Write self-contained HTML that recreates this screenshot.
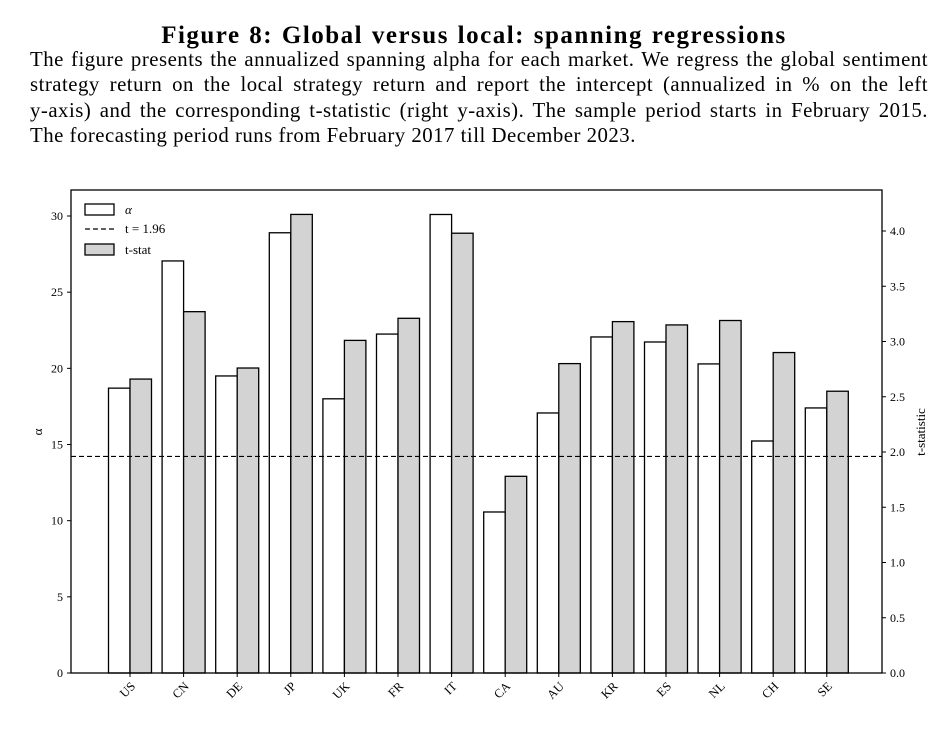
<!DOCTYPE html>
<html><head><meta charset="utf-8"><style>
body{margin:0;background:#fff;width:948px;height:738px;overflow:hidden;font-family:"Liberation Serif",serif;}
#title{position:absolute;top:22px;left:0;width:948px;text-align:center;font-weight:bold;font-size:25px;letter-spacing:1.5px;word-spacing:1px;}
#desc{position:absolute;top:47px;left:30px;width:898px;font-size:20.8px;line-height:25.3px;letter-spacing:0.5px;}
#desc div{text-align:justify;text-align-last:justify;white-space:nowrap;}
#desc div.last{text-align-last:left;}
svg{position:absolute;left:0;top:0}
</style></head><body>
<div id="title">Figure 8: Global versus local: spanning regressions</div>
<div id="desc">
<div>The figure presents the annualized spanning alpha for each market. We regress the global sentiment</div>
<div>strategy return on the local strategy return and report the intercept (annualized in % on the left</div>
<div>y-axis) and the corresponding t-statistic (right y-axis). The sample period starts in February 2015.</div>
<div class="last">The forecasting period runs from February 2017 till December 2023.</div>
</div>
<svg id="chart" width="948" height="738" font-family="Liberation Serif, serif"></svg>
<script>
const categories=["US","CN","DE","JP","UK","FR","IT","CA","AU","KR","ES","NL","CH","SE"];
const alphaValues=[18.7,27.05,19.5,28.9,18.0,22.25,30.1,10.57,17.07,22.06,21.73,20.29,15.23,17.4];
const tValues=[2.66,3.27,2.76,4.15,3.01,3.21,3.98,1.78,2.80,3.18,3.15,3.19,2.90,2.55];
const leftTicks=[0,5,10,15,20,25,30];
const rightTicks=[0,0.5,1,1.5,2,2.5,3,3.5,4];
const threshold=1.96;
const svg=document.getElementById('chart');
const NS='http://www.w3.org/2000/svg';
const L=71,R=882,T=190,B=673;
const yA=v=>B-v*15.233;
const yT=v=>B-v*110.5;
const xC=i=>130+i*53.6;
const bw=21.5;
function mk(tag,attrs,parent){const e=document.createElementNS(NS,tag);for(const k in attrs)e.setAttribute(k,attrs[k]);(parent||svg).appendChild(e);return e;}
categories.forEach((c,i)=>{
  const a=mk('rect',{x:xC(i)-bw,y:yA(alphaValues[i]),width:bw,height:B-yA(alphaValues[i]),fill:'#fff',stroke:'#000','stroke-width':1.3});
  
  
  const t=mk('rect',{x:xC(i),y:yT(tValues[i]),width:bw,height:B-yT(tValues[i]),fill:'#d3d3d3',stroke:'#000','stroke-width':1.3});
  
  
  mk('line',{x1:xC(i),x2:xC(i),y1:B,y2:B+4,stroke:'#000'});
  const lb=mk('text',{x:0,y:0,'font-size':12.5,'text-anchor':'end',transform:`translate(${xC(i)+6},${B+14}) rotate(-45)`});
  lb.textContent=c;
  
  
});
const dl=mk('line',{x1:L,x2:R,y1:yT(threshold),y2:yT(threshold),stroke:'#000','stroke-dasharray':'5,3','stroke-width':1.2});


const fr=mk('rect',{x:L,y:T,width:R-L,height:B-T,fill:'none',stroke:'#000','stroke-width':1.3});


leftTicks.forEach(v=>{
  mk('line',{x1:L-4,x2:L,y1:yA(v),y2:yA(v),stroke:'#000'});
  const t=mk('text',{x:L-8,y:yA(v)+4,'font-size':12,'text-anchor':'end'});t.textContent=v;
  
  
});
rightTicks.forEach(v=>{
  mk('line',{x1:R,x2:R+4,y1:yT(v),y2:yT(v),stroke:'#000'});
  const t=mk('text',{x:R+8,y:yT(v)+4,'font-size':12}),s=v.toFixed(1);t.textContent=s;
  
  
});
const ya=mk('text',{x:0,y:0,'font-size':13,'text-anchor':'middle',transform:'translate(42,432) rotate(-90)'});ya.textContent='α';


const yb=mk('text',{x:0,y:0,'font-size':13,'text-anchor':'middle',transform:'translate(925,432) rotate(-90)'});yb.textContent='t-statistic';


const lg=mk('g',{});


mk('rect',{x:85,y:204,width:29,height:11,fill:'#fff',stroke:'#000','stroke-width':1.3},lg);
mk('text',{x:125,y:214,'font-size':13,'font-style':'italic'},lg).textContent='α';
mk('line',{x1:85,x2:114,y1:229,y2:229,stroke:'#000','stroke-dasharray':'5,3','stroke-width':1.2},lg);
mk('text',{x:125,y:233,'font-size':13},lg).textContent='t = 1.96';
mk('rect',{x:85,y:244,width:29,height:11,fill:'#d3d3d3',stroke:'#000','stroke-width':1.3},lg);
mk('text',{x:125,y:254,'font-size':13},lg).textContent='t-stat';
</script>
</body></html>
